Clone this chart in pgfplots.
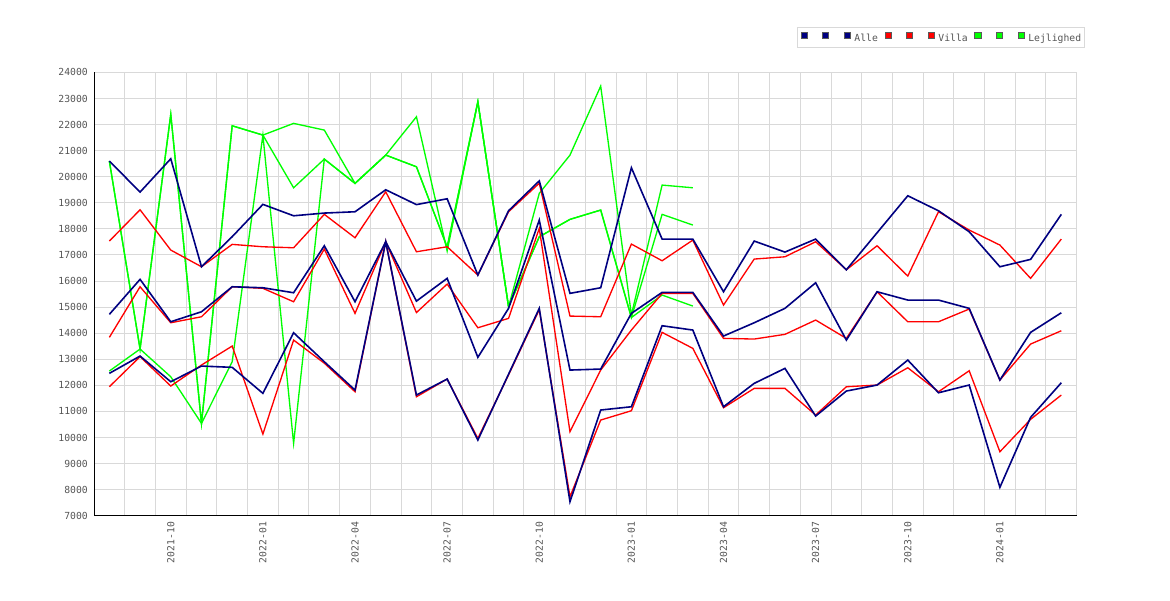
\documentclass[border=0pt]{standalone}
\usepackage{pgfplots}
\pgfplotsset{compat=1.18}
\usepackage{pgfplotstable}
\usepackage{fontspec}
\setmainfont{DejaVu Sans Mono}
\definecolor{navyc}{RGB}{0,0,128}
\definecolor{redc}{RGB}{255,0,0}
\definecolor{greenc}{RGB}{0,255,0}
\definecolor{txt}{RGB}{85,85,85}
\definecolor{gridc}{RGB}{217,217,217}
\definecolor{sqborder}{RGB}{90,90,90}

\pgfplotstableread{
x high mid low
0 20600 14722 12460
1 19411 16064 13123
2 20688 14438 12138
3 16548 14821 12739
4 17700 15780 12690
5 18939 15742 11693
6 18502 15550 14016
7 18606 17352 12904
8 18656 15205 11819
9 19499 17505 17505
10 18930 15230 11628
11 19154 16102 12241
12 16228 13073 9902
13 18694 14952 12427
14 19840 18337 14952
15 15527 12586 7537
16 15742 12624 11053
17 20342 14760 11179
18 17609 15565 14285
19 17609 15565 14120
20 15588 13890 11179
21 17532 14400 12076
22 17110 14952 12651
23 17609 15933 10822
24 16432 13736 11781
25 17850 15588 12011
26 19269 15270 12969
27 18694 15270 11716
28 17889 14952 12011
29 16547 12203 8089
30 16830 14031 10773
31 18556 14783 12099
}\alle

\pgfplotstableread{
x high mid low
0 17532 13840 11946
1 18732 15780 13100
2 17187 14400 11973
3 16548 14630 12778
4 17405 15780 13506
5 17314 15720 10132
6 17275 15205 13736
7 18556 17225 12850
8 17659 14760 11754
9 19422 17505 17505
10 17122 14790 11562
11 17314 15883 12241
12 16228 14208 9967
13 18656 14568 12400
14 19750 18019 14900
15 14656 10221 7728
16 14630 12586 10669
17 17417 14120 11026
18 16777 15527 14031
19 17570 15527 13418
20 15078 13801 11141
21 16842 13775 11884
22 16930 13955 11884
23 17505 14503 10861
24 16432 13801 11946
25 17352 15588 12011
26 16190 14438 12674
27 18656 14438 11754
28 17954 14925 12559
29 17379 12203 9454
30 16102 13583 10696
31 17609 14093 11628
}\villa

\pgfplotstableread{
x ga gb gc
0 20600 12548 20600
1 13391 13391 13391
2 22390 12329 22390
3 10543 10543 10543
4 21953 12904 21953
5 21596 21596 21596
6 22045 9776 19576
7 21788 20676 20676
8 19744 19744 19744
9 20829 20829 20829
10 22298 20381 20381
11 17150 17300 17300
12 22873 22873 22873
13 15013 15013 15013
14 19361 17697 17697
15 20829 18364 18364
16 23475 18721 18721
17 14700 14600 14600
18 19679 18556 15462
19 19576 18146 15040
}\lejl

\begin{document}
\begin{tikzpicture}
\useasboundingbox (0,0) rectangle (877.5pt,450pt);
\begin{axis}[
  at={(70.5pt,63.2pt)}, anchor=south west,
  scale only axis, width=737pt, height=332.5pt,
  xmin=-0.5, xmax=31.5, ymin=7000, ymax=24000,
  scaled y ticks=false,
  axis x line*=bottom, axis y line*=left,
  axis line style={black, line width=0.75pt, -},
  xtick={2,5,8,11,14,17,20,23,26,29},
  xticklabels={2021-10,2022-01,2022-04,2022-07,2022-10,2023-01,2023-04,2023-07,2023-10,2024-01},
  minor xtick={-0.5,0.5,...,31.5},
  xminorgrids=true, xmajorgrids=false, ymajorgrids=true,
  ytick={7000,8000,...,24000},
  yticklabels={7000,8000,9000,10000,11000,12000,13000,14000,15000,16000,17000,18000,19000,20000,21000,22000,23000,24000},
  major tick length=0pt, minor tick length=0pt,
  grid style={gridc, line width=0.75pt},
  minor grid style={gridc, line width=0.75pt},
  tick label style={font=\fontsize{7.3}{8}\selectfont, text=txt},
  xticklabel style={rotate=90, anchor=east, inner sep=0pt},
  yticklabel style={inner sep=0pt},
  xticklabel shift=4.5pt, yticklabel shift=4.5pt,
  legend columns=9,
  legend style={at={(0.7154,1)}, anchor=south west, yshift=18pt,
    draw=gridc, line width=0.75pt, inner xsep=2.25pt, inner ysep=3.6pt,
    font=\fontsize{7.3}{8}\selectfont, text=txt, column sep=0pt,
    nodes={inner xsep=0pt, inner ysep=0pt, text height=5.5pt, text depth=1.5pt}},
  legend image code/.code={\draw[#1, line width=0.75pt] (0pt,-0.2pt) rectangle (4.7pt,4.5pt);},
]
\addplot[greenc, line width=1pt, forget plot] table[x=x,y=ga]{\lejl};
\addplot[greenc, line width=1pt, forget plot] table[x=x,y=gb]{\lejl};
\addplot[greenc, line width=1pt, forget plot] table[x=x,y=gc]{\lejl};
\addplot[redc, line width=1pt, forget plot] table[x=x,y=high]{\villa};
\addplot[redc, line width=1pt, forget plot] table[x=x,y=mid]{\villa};
\addplot[redc, line width=1pt, forget plot] table[x=x,y=low]{\villa};
\addplot[navyc, line width=1.2pt, forget plot] table[x=x,y=high]{\alle};
\addplot[navyc, line width=1.2pt, forget plot] table[x=x,y=mid]{\alle};
\addplot[navyc, line width=1.2pt, forget plot] table[x=x,y=low]{\alle};
\addlegendimage{fill=navyc, draw=sqborder}
\addlegendentry{\hspace*{10.8pt}}
\addlegendimage{fill=navyc, draw=sqborder}
\addlegendentry{\hspace*{10.8pt}}
\addlegendimage{fill=navyc, draw=sqborder}
\addlegendentry{\hspace*{2.5pt}Alle\hspace*{5pt}}
\addlegendimage{fill=redc, draw=sqborder}
\addlegendentry{\hspace*{10.8pt}}
\addlegendimage{fill=redc, draw=sqborder}
\addlegendentry{\hspace*{10.8pt}}
\addlegendimage{fill=redc, draw=sqborder}
\addlegendentry{\hspace*{2.5pt}Villa\hspace*{5pt}}
\addlegendimage{fill=greenc, draw=sqborder}
\addlegendentry{\hspace*{10.8pt}}
\addlegendimage{fill=greenc, draw=sqborder}
\addlegendentry{\hspace*{10.8pt}}
\addlegendimage{fill=greenc, draw=sqborder}
\addlegendentry{\hspace*{2.5pt}Lejlighed}
\end{axis}
\end{tikzpicture}
\end{document}
